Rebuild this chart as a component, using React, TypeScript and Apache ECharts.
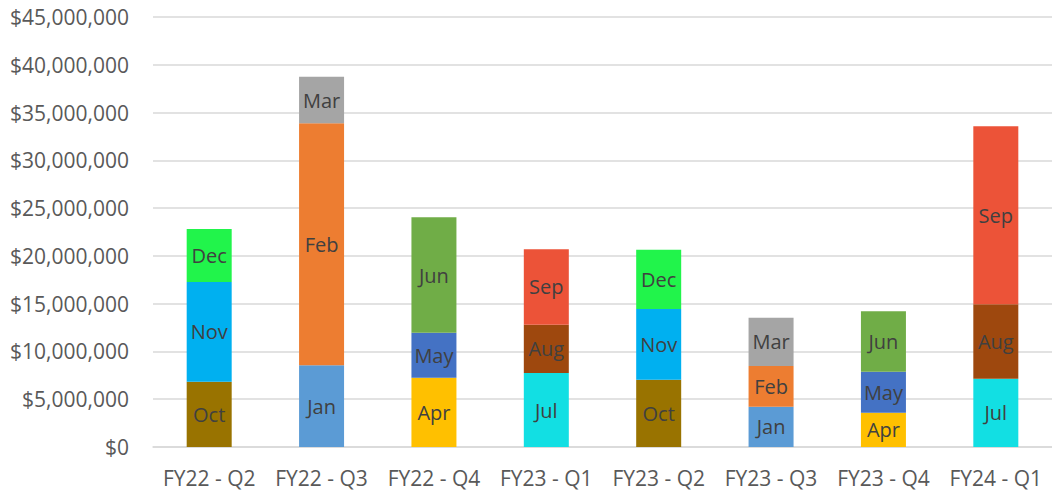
import React, { useEffect, useRef } from "react";
import * as echarts from "echarts";

const quarters = ["FY22 - Q2", "FY22 - Q3", "FY22 - Q4", "FY23 - Q1", "FY23 - Q2", "FY23 - Q3", "FY23 - Q4", "FY24 - Q1"];
const yTicks = { min: 0, max: 45000000, interval: 5000000 };

const octValues = [6830000, null, null, null, 7040000, null, null, null];
const novValues = [10440000, null, null, null, 7400000, null, null, null];
const decValues = [5540000, null, null, null, 6210000, null, null, null];
const janValues = [null, 8550000, null, null, null, 4220000, null, null];
const febValues = [null, 25320000, null, null, null, 4260000, null, null];
const marValues = [null, 4880000, null, null, null, 5050000, null, null];
const aprValues = [null, null, 7250000, null, null, null, 3590000, null];
const mayValues = [null, null, 4710000, null, null, null, 4290000, null];
const junValues = [null, null, 12080000, null, null, null, 6320000, null];
const julValues = [null, null, null, 7740000, null, null, null, 7150000];
const augValues = [null, null, null, 5060000, null, null, null, 7780000];
const sepValues = [null, null, null, 7890000, null, null, null, 18630000];

const months = [
  { name: "Oct", values: octValues, color: "#997300" },
  { name: "Nov", values: novValues, color: "#00B0F0" },
  { name: "Dec", values: decValues, color: "#21F44B" },
  { name: "Jan", values: janValues, color: "#5B9BD5" },
  { name: "Feb", values: febValues, color: "#ED7D31" },
  { name: "Mar", values: marValues, color: "#A5A5A5" },
  { name: "Apr", values: aprValues, color: "#FFC000" },
  { name: "May", values: mayValues, color: "#4472C4" },
  { name: "Jun", values: junValues, color: "#70AD47" },
  { name: "Jul", values: julValues, color: "#12DFE3" },
  { name: "Aug", values: augValues, color: "#9E480E" },
  { name: "Sep", values: sepValues, color: "#EC5338" },
];

const FONT = "'Open Sans', 'Noto Sans', sans-serif";

export default function App() {
  const ref = useRef<HTMLDivElement>(null);
  useEffect(() => {
    if (!ref.current) return;
    const chart = echarts.init(ref.current, undefined, { renderer: "svg" });
    chart.setOption({
      animation: false,
      backgroundColor: "#ffffff",
      grid: { left: 153, right: -7, top: 17, bottom: 44, containLabel: false },
      xAxis: {
        type: "category",
        data: quarters,
        axisTick: { show: false },
        axisLine: { lineStyle: { color: "#D9D9D9", width: 1.5 } },
        axisLabel: { color: "#595959", fontSize: 21, fontFamily: FONT, margin: 20, interval: 0 },
      },
      yAxis: {
        type: "value",
        min: yTicks.min,
        max: yTicks.max,
        interval: yTicks.interval,
        axisLine: { show: false },
        axisTick: { show: false },
        splitLine: { lineStyle: { color: "#D9D9D9", width: 1.5 } },
        axisLabel: {
          color: "#595959",
          fontSize: 21,
          fontFamily: FONT,
          margin: 24,
          formatter: (v: number) => "$" + v.toLocaleString("en-US"),
        },
      },
      series: months.map((m) => ({
        name: m.name,
        type: "bar",
        stack: "total",
        barWidth: 45,
        data: m.values.map((v) => (v === null ? "-" : v)),
        itemStyle: { color: m.color },
        label: {
          show: true,
          position: "inside",
          formatter: "{a}",
          color: "#404040",
          fontSize: 20,
          fontFamily: FONT,
        },
      })),
    });
    return () => chart.dispose();
  }, []);
  return <div ref={ref} style={{ position: "fixed", left: 0, top: 0, width: 1052, height: 491 }} />;
}
